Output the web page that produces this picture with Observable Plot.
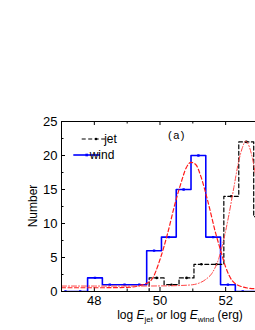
<!DOCTYPE html>
<html><head><meta charset="utf-8">
<script src="https://cdn.jsdelivr.net/npm/d3@7"></script>
<script src="https://cdn.jsdelivr.net/npm/@observablehq/plot@0.6"></script>
<style>
html,body{margin:0;padding:0;background:#fff;overflow:hidden;width:255px;height:330px;}
#chart{position:relative;width:255px;height:330px;overflow:hidden;}
#chart svg{max-width:none !important;width:300px !important;height:330px !important;display:block;}
</style></head><body><div id="chart"></div>
<script>
// wind histogram (bin centers, counts)
const windX = [47.12, 47.57, 48.02, 48.47, 48.92, 49.37, 49.82, 50.27, 50.72, 51.17, 51.62, 52.07, 52.52, 52.97, 53.42];
const windN = [0, 0, 2, 1, 1, 1, 6, 8, 15, 20, 8, 1, 0, 0, 0];
// jet histogram (bin centers, counts)
const jetX = [49.44, 49.9, 50.35, 50.81, 51.26, 51.72, 52.17, 52.63, 53.08];
const jetN = [0, 2, 1, 2, 4, 4, 14, 22, 11];
// Gaussian fit curves
const windFitX = [47, 48, 49, 49.4, 49.72, 50.02, 50.23, 50.43, 50.63, 50.8, 50.94, 51.1, 51.24, 51.45, 51.7, 51.85, 52.0, 52.2, 52.5, 52.9, 53.3];
const windFitY = [0.55, 0.55, 0.6, 0.9, 1.6, 5.0, 8.5, 12.4, 15.8, 18.2, 19.0, 18.6, 17.0, 13.4, 8.5, 6.0, 3.6, 1.6, 0.7, 0.4, 0.35];
const jetFitX = [47, 48, 49, 50, 50.6, 51.0, 51.2, 51.4, 51.6, 51.8, 51.95, 52.1, 52.25, 52.4, 52.5, 52.61, 52.72, 52.82, 52.95, 53.1];
const jetFitY = [0.8, 0.8, 0.8, 0.82, 0.88, 1.0, 1.25, 1.8, 2.8, 5.0, 7.8, 11.3, 15.3, 19.2, 21.0, 22.1, 21.3, 19.5, 16.0, 11.5];
// ticks
const xMajor = [48, 50, 52];
const xMinor = [49, 51, 53];
const yMajor = [0, 5, 10, 15, 20, 25];
const yMinor = [2.5, 7.5, 12.5, 17.5, 22.5];

const windRows = windX.map((x, i) => ({x, n: windN[i]}));
const jetRows = jetX.map((x, i) => ({x, n: jetN[i]}));
const windFit = windFitX.map((x, i) => ({x, y: windFitY[i]}));
const jetFit = jetFitX.map((x, i) => ({x, y: jetFitY[i]}));

const W = 300, H = 330, ML = 61, MR = 9.2, MT = 121, MB = 39;
const FW = W - ML - MR, FH = H - MT - MB;

const chart = Plot.plot({
  width: W, height: H, marginLeft: ML, marginRight: MR, marginTop: MT, marginBottom: MB,
  style: {fontFamily: "'Liberation Sans', Arial, sans-serif", fontSize: "13px", color: "#000", background: "#fff", maxWidth: "none"},
  x: {domain: [47, 54], axis: null},
  y: {domain: [0, 25], axis: null},
  marks: [
    Plot.axisX(xMajor, {anchor: "bottom", tickSize: 0, tickPadding: 4, fontSize: 13, label: null}),
    Plot.axisY(yMajor, {anchor: "left", tickSize: 0, tickPadding: 4, fontSize: 13, label: null}),
    Plot.tickX(xMajor, {x: d => d, insetTop: FH - 4, stroke: "#000"}),
    Plot.tickX(xMinor, {x: d => d, insetTop: FH - 2.5, stroke: "#000"}),
    Plot.tickX(xMajor, {x: d => d, insetBottom: FH - 4, stroke: "#000"}),
    Plot.tickX(xMinor, {x: d => d, insetBottom: FH - 2.5, stroke: "#000"}),
    Plot.tickY(yMajor, {y: d => d, insetRight: FW - 4, stroke: "#000"}),
    Plot.tickY(yMinor, {y: d => d, insetRight: FW - 2.5, stroke: "#000"}),
    Plot.line(windRows, {x: "x", y: "n", curve: "step", stroke: "#0000ff", strokeWidth: 1.6, clip: true}),
    Plot.dot(windRows, {x: "x", y: "n", r: 1.3, symbol: "square", fill: "#0000ff", clip: true}),
    Plot.line(jetRows, {x: "x", y: "n", curve: "step", stroke: "#000", strokeWidth: 1.2, strokeDasharray: "4,2.5", clip: true}),
    Plot.dot(jetRows.filter(d => d.n > 0), {x: "x", y: "n", r: 1.3, fill: "#000", clip: true}),
    Plot.line(windFit, {x: "x", y: "y", curve: "monotone-x", stroke: "#ff1a1a", strokeWidth: 1.2, strokeDasharray: "4,2.5", clip: true}),
    Plot.line(jetFit, {x: "x", y: "y", curve: "monotone-x", stroke: "#ff4545", strokeWidth: 1, strokeDasharray: "5,2,1,2", clip: true}),
    Plot.frame({stroke: "#000", strokeWidth: 1})
  ]
});
document.getElementById("chart").appendChild(chart);

const svg = d3.select(chart);
const ff = "'Liberation Sans', Arial, sans-serif";
// y label
svg.append("text").attr("transform", "translate(33,206) rotate(-90)")
  .attr("text-anchor", "middle").attr("dy", "0.35em")
  .attr("font-family", ff).attr("font-size", 12).attr("fill", "#000").text("Number");
// x label with subscripts
const xl = svg.append("text").attr("x", 180).attr("y", 318.5).attr("text-anchor", "middle")
  .attr("font-family", ff).attr("font-size", 12).attr("fill", "#000");
xl.append("tspan").text("log ");
xl.append("tspan").attr("font-style", "italic").text("E");
xl.append("tspan").attr("font-size", 8).attr("dy", 3).text("jet");
xl.append("tspan").attr("dy", -3).text(" or log ");
xl.append("tspan").attr("font-style", "italic").text("E");
xl.append("tspan").attr("font-size", 8).attr("dy", 3).text("wind");
xl.append("tspan").attr("dy", -3).text(" (erg)");
// panel tag
svg.append("text").attr("x", 177).attr("y", 135).attr("dy", "0.35em").attr("text-anchor", "middle")
  .attr("font-family", ff).attr("font-size", 11).attr("letter-spacing", "1.5px").attr("fill", "#000").text("(a)");
// legend
const lg = svg.append("g");
lg.append("line").attr("x1", 81.7).attr("x2", 108.3).attr("y1", 139).attr("y2", 139)
  .attr("stroke", "#000").attr("stroke-width", 1.2).attr("stroke-dasharray", "4,2.5");
lg.append("circle").attr("cx", 96).attr("cy", 139).attr("r", 1.3).attr("fill", "#000");
lg.append("text").attr("x", 110.5).attr("y", 139).attr("dy", "0.35em").attr("font-family", ff)
  .attr("font-size", 12).attr("fill", "#000").text("jet");
lg.append("line").attr("x1", 73.3).attr("x2", 100).attr("y1", 155).attr("y2", 155)
  .attr("stroke", "#0000ff").attr("stroke-width", 1.6);
lg.append("rect").attr("x", 85.4).attr("y", 153.7).attr("width", 2.6).attr("height", 2.6).attr("fill", "#0000ff");
lg.append("text").attr("x", 102).attr("y", 155).attr("dy", "0.35em").attr("font-family", ff)
  .attr("font-size", 12).attr("fill", "#000").text("wind");
</script></body></html>
